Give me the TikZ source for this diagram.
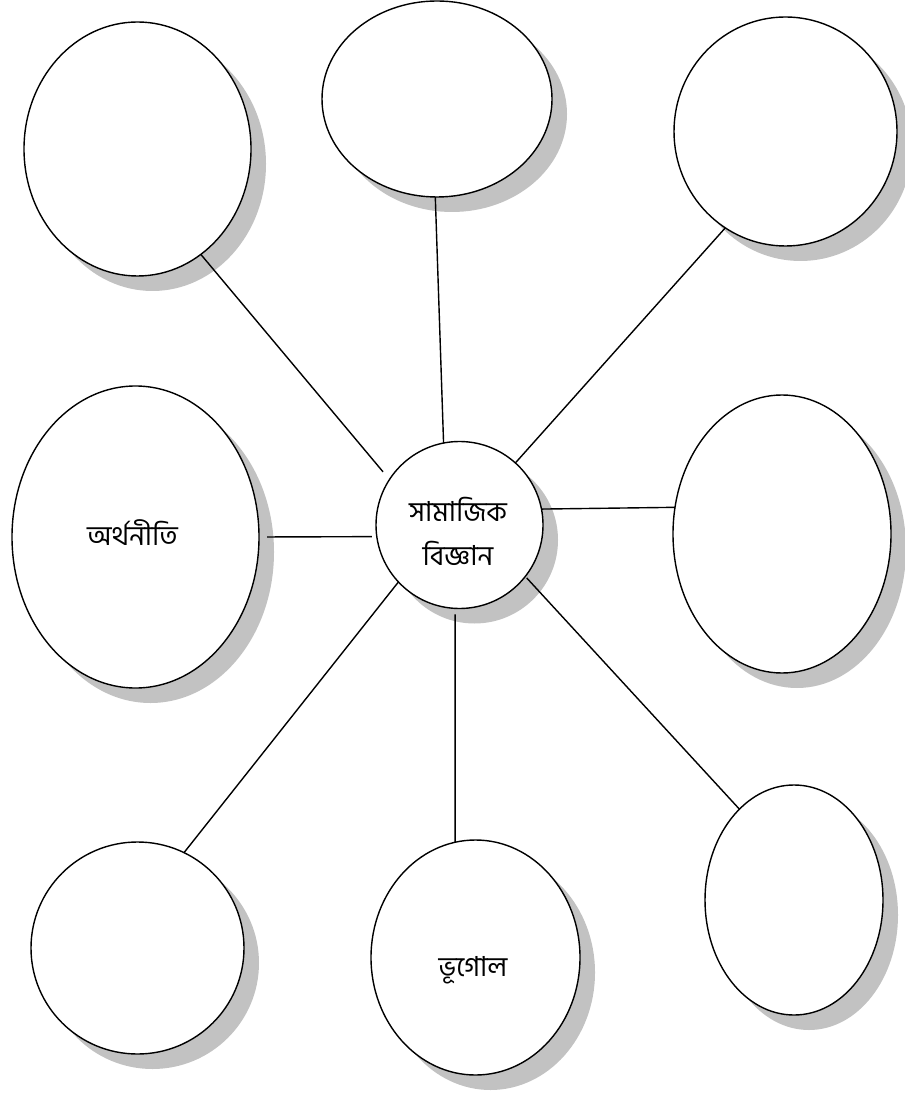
\documentclass[tikz,border=0pt]{standalone}
\usepackage{fontspec}
\newfontfamily\bn[Script=Bengali]{Hind Siliguri}
\usetikzlibrary{shapes.geometric,shadows}
\begin{document}
\begin{tikzpicture}[x=0.5pt,y=-0.5pt,
  bubble/.style={ellipse,draw=black,line width=0.7pt,fill=white,inner sep=0pt,outer sep=0pt,
    drop shadow={shadow xshift=7.5pt,shadow yshift=-7.5pt,fill=black!24,opacity=1}},
  txt/.style={font=\bn\fontsize{13.8}{22}\selectfont,align=center,inner sep=0pt},
  link/.style={line width=0.7pt,draw=black}]
\useasboundingbox (0,0) rectangle (904,1095);
% outer bubbles
\node[bubble,minimum width=113.5pt,minimum height=127pt] (tl) at (137.5,149) {};
\node[bubble,minimum width=115pt,minimum height=98pt] (tm) at (437,99) {};
\node[bubble,minimum width=111.5pt,minimum height=114.5pt] (tr) at (785.5,131.5) {};
\node[bubble,minimum width=123.5pt,minimum height=151pt] (lm) at (135.5,537) {};
\node[bubble,minimum width=109pt,minimum height=139pt] (rm) at (782,534) {};
\node[bubble,minimum width=106.5pt,minimum height=106pt] (bl) at (137.5,948) {};
\node[bubble,minimum width=104.5pt,minimum height=117.5pt] (bm) at (475.5,957.5) {};
\node[bubble,minimum width=89pt,minimum height=115pt] (br) at (794,900) {};
% centre
\node[bubble,minimum width=83.5pt,minimum height=83.5pt] (c) at (459.5,525) {};
% labels
\node[txt] (lc) at (458,531) {সামাজিক\\বিজ্ঞান};
\node[txt] (llm) at (132.5,533) {অর্থনীতি};
\node[txt] (lbm) at (473,970) {ভূগোল};
% connectors
\draw[link,shorten >=5pt] (tl.-59.3) -- (c.147.2);
\draw[link] (tm.-91.2) -- (c.101.2);
\draw[link] (tr.-122.6) -- (c.48.2);
\draw[link,shorten <=4pt,shorten >=2.5pt] (lm.0.4) -- (c.188.5);
\draw[link] (rm.166.6) -- (c.11);
\draw[link] (bl.64.9) -- (c.223.8);
\draw[link,shorten >=3pt] (bm.100.4) -- (c.-93.8);
\draw[link,shorten >=1pt] (br.121.6) -- (c.-38.1);
\end{tikzpicture}
\end{document}
